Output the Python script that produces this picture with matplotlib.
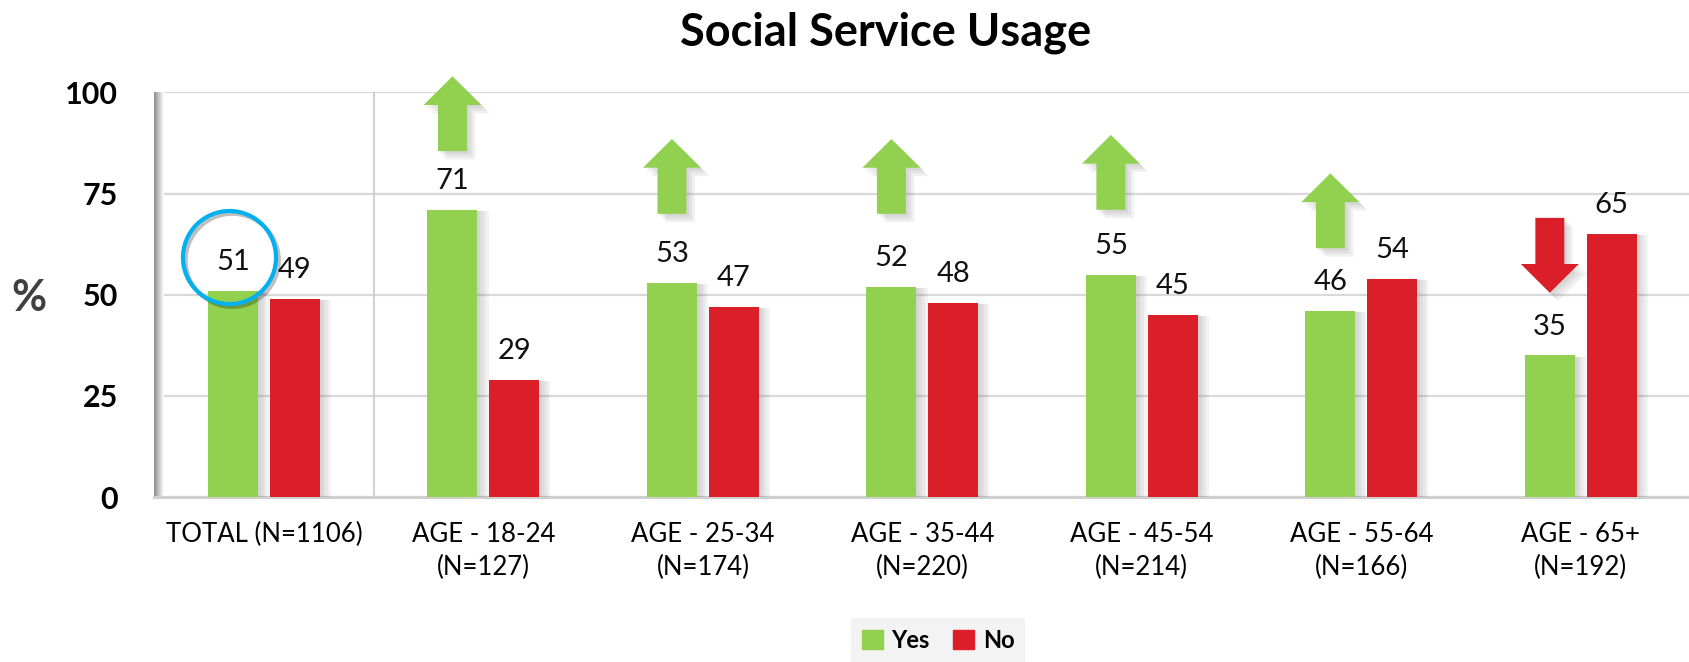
import numpy as np
import matplotlib
matplotlib.use("Agg")
import matplotlib.pyplot as plt
import matplotlib.patheffects as pe
from matplotlib.patches import Polygon, Patch

plt.rcParams["font.family"] = ["Lato", "DejaVu Sans"]

categories = ["TOTAL (N=1106)", "AGE - 18-24\n(N=127)", "AGE - 25-34\n(N=174)",
              "AGE - 35-44\n(N=220)", "AGE - 45-54\n(N=214)", "AGE - 55-64\n(N=166)",
              "AGE - 65+\n(N=192)"]
yes = [51, 71, 53, 52, 55, 46, 35]
no = [49, 29, 47, 48, 45, 54, 65]
# trend arrows drawn over the "Yes" bars: direction and where the arrow starts
arrow_dir = [0, 1, 1, 1, 1, 1, -1]
arrow_tail = [0, 85.5, 70, 70, 71, 61.5, 69]

green = "#92D050"
red = "#DA1F28"

fig = plt.figure(figsize=(16.89, 6.62), dpi=100)
ax = fig.add_axes([0.0913, 0.2492, 0.9096, 0.6111])

x = np.arange(len(categories))
off, w = 0.141, 0.228

# soft drop shadow, built from a few faint offset copies
shadow = [pe.SimplePatchShadow(offset=(o, -1), shadow_rgbFace="#808080", alpha=0.09)
          for o in (8, 6, 4, 2)] + [pe.Normal()]
b1 = ax.bar(x - off, yes, w, color=green, zorder=3, label="Yes")
b2 = ax.bar(x + off, no, w, color=red, zorder=3, label="No")
for p in list(b1) + list(b2):
    p.set_path_effects(shadow)

for xi, v in zip(x, yes):
    ax.annotate(str(v), (xi - off, v), xytext=(0, 15), textcoords="offset points",
                ha="center", va="baseline", fontsize=21, color="#111111", zorder=5)
for xi, v in zip(x, no):
    ax.annotate(str(v), (xi + off, v), xytext=(0, 15), textcoords="offset points",
                ha="center", va="baseline", fontsize=21, color="#111111", zorder=5)

# arrows
L, H, hw, sw = 18.5, 7.1, 0.132, 0.066
ashadow = [pe.SimplePatchShadow(offset=(o, -o), shadow_rgbFace="#707070", alpha=0.1)
           for o in (6, 4, 2)] + [pe.Normal()]
for xi, d, t in zip(x, arrow_dir, arrow_tail):
    if d == 0:
        continue
    cx = xi - off
    ys = t + d * (L - H)
    tip = t + d * L
    pts = [(cx - sw, t), (cx + sw, t), (cx + sw, ys), (cx + hw, ys), (cx, tip),
           (cx - hw, ys), (cx - sw, ys)]
    poly = Polygon(pts, closed=True, facecolor=green if d > 0 else red,
                   edgecolor="none", zorder=6, clip_on=False)
    poly.set_path_effects(ashadow)
    ax.add_patch(poly)

# highlight circle on the total "Yes" label
ax.plot([x[0] - off - 0.016], [yes[0] + 8.2], marker="o", markersize=67, markerfacecolor="none",
        markeredgecolor="#00B0F0", markeredgewidth=3, zorder=7, clip_on=False,
        path_effects=[pe.SimpleLineShadow(offset=(2, -2), alpha=0.25), pe.Normal()])

ax.set_xlim(-0.5, 6.5)
ax.set_ylim(0, 100)
ax.set_yticks([0, 25, 50, 75, 100])
ax.set_xticks(x)
ax.set_xticklabels(categories, fontsize=18.5, linespacing=1.4)
for lab in ax.get_yticklabels():
    lab.set_fontweight("bold")
    lab.set_fontsize(22)
ax.tick_params(axis="x", length=0, pad=18)
ax.tick_params(axis="y", length=0, pad=26)

ax.grid(axis="y", color="#D9D9D9", lw=1.6, zorder=0)
ax.set_axisbelow(True)
ax.axvline(0.5, color="#C8C8C8", lw=1.2, zorder=1)
for s in ["top", "right"]:
    ax.spines[s].set_visible(False)
ax.spines["bottom"].set_color("#CFCFCF")
ax.spines["bottom"].set_linewidth(2.2)
ax.spines["left"].set_visible(False)

# shaded left wall
grad = np.linspace(0.55, 1.0, 50).reshape(1, -1)
ax.imshow(grad, cmap="gray", vmin=0, vmax=1, extent=(-0.5, -0.455, 0, 100),
          aspect="auto", zorder=2, interpolation="bilinear")
ax.set_xlim(-0.5, 6.5)
ax.set_ylim(0, 100)

fig.text(886 / 1689, 1 - 33 / 662, "Social Service Usage", ha="center", va="center",
         fontsize=32.5, fontweight="bold", color="#000000")
fig.text(28.5 / 1689, 1 - 298 / 662, "%", ha="center", va="center",
         fontsize=31, fontweight="bold", color="#404040")

handles = [Patch(color=green, label="Yes"), Patch(color=red, label="No")]
leg = fig.legend(handles=handles, loc="center", bbox_to_anchor=(938 / 1689, 1 - 640 / 662),
                 ncol=2, frameon=True, fancybox=False, handlelength=0.9, handleheight=0.9,
                 handletextpad=0.35, columnspacing=1.0, borderpad=0.45,
                 prop={"weight": "bold", "size": 17})
leg.get_frame().set_facecolor("#F0F0F0")
leg.get_frame().set_edgecolor("none")

fig.savefig("out.png", dpi=100)
